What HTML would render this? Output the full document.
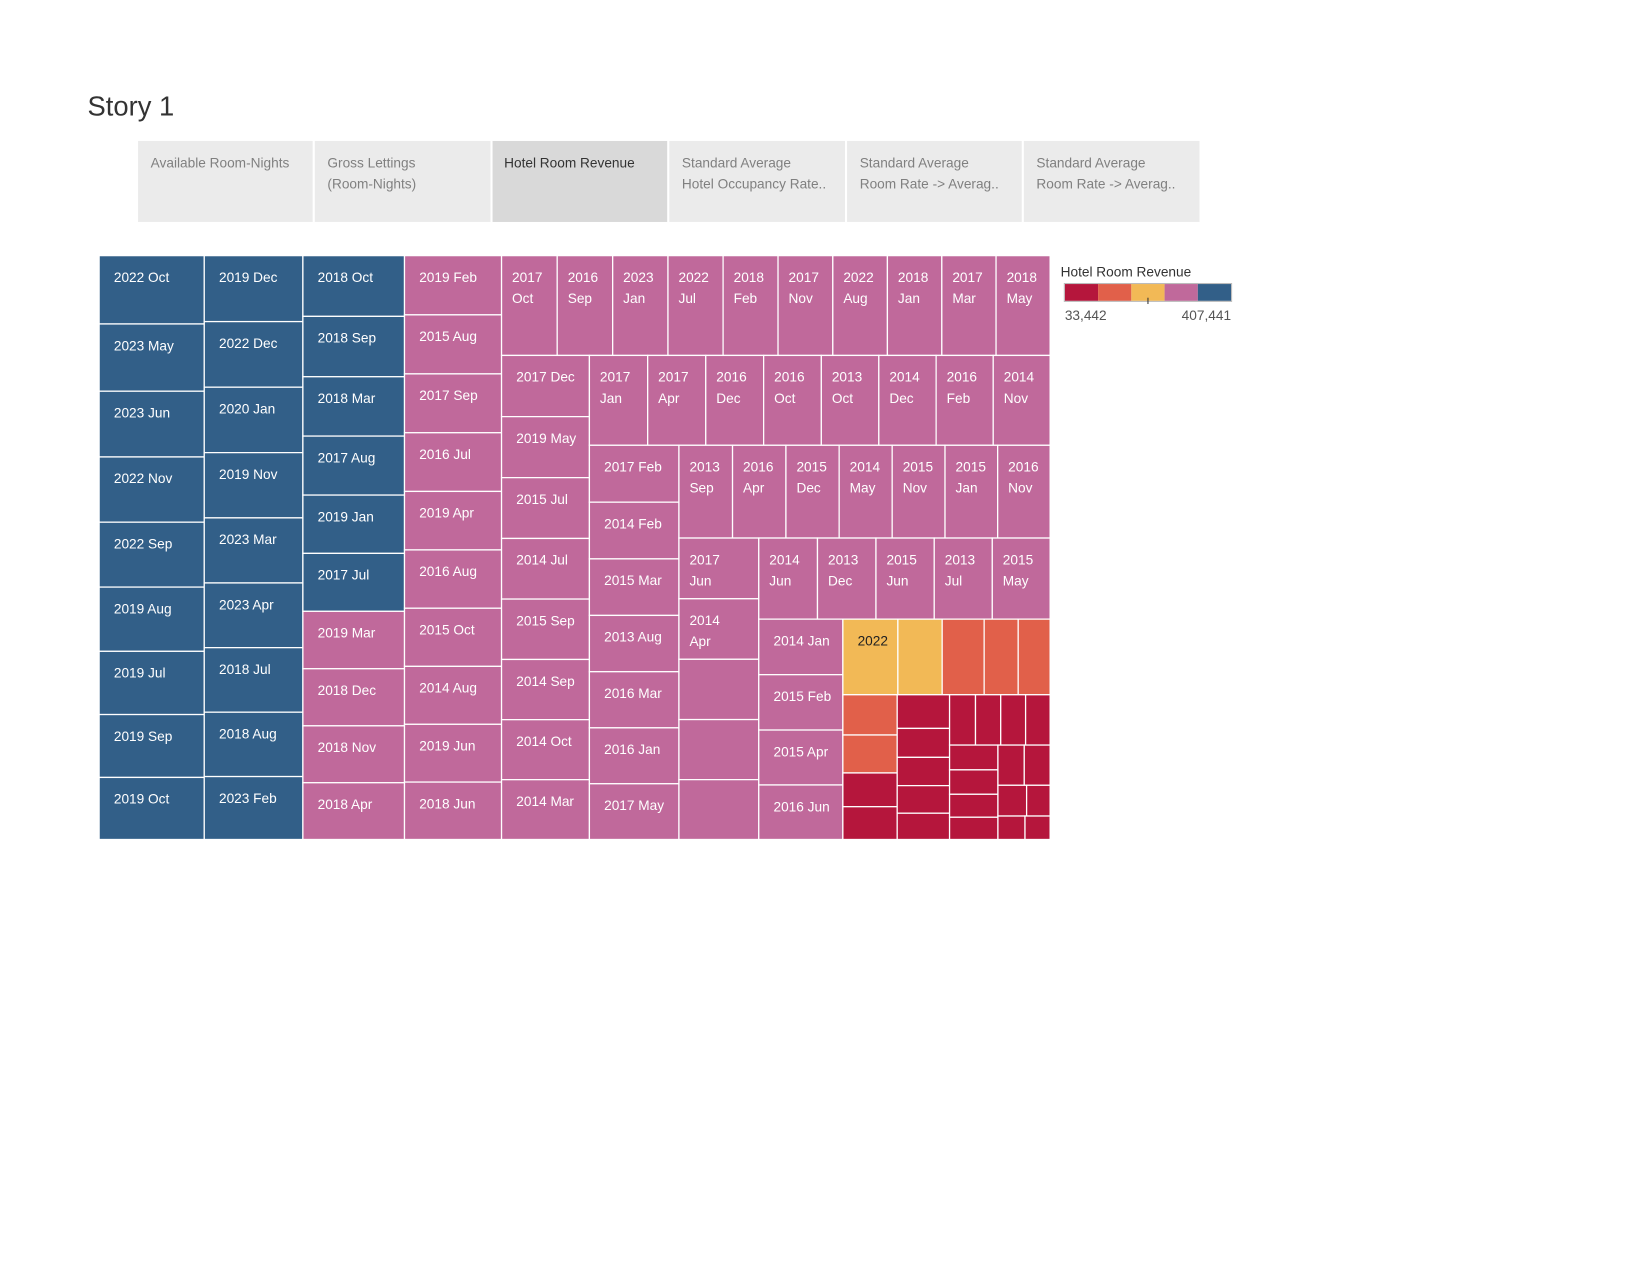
<!DOCTYPE html>
<html><head><meta charset="utf-8">
<style>
html,body{margin:0;padding:0;background:#fff;width:1650px;height:1275px;overflow:hidden;}
svg{display:block;font-family:"Liberation Sans",sans-serif;}
</style></head>
<body>
<svg id="root" width="1650" height="1275" viewBox="0 0 1568 1212" xmlns="http://www.w3.org/2000/svg">
  <text x="83" y="110" font-size="26" fill="#333">Story 1</text>
  <g>
    <g>
      <rect x="131" y="134" width="166" height="77" fill="#ebebeb"/>
      <text x="143" y="159" font-size="13" fill="#808080">Available Room-Nights</text>
    </g>
    <g>
      <rect x="299" y="134" width="167" height="77" fill="#ebebeb"/>
      <text x="311" y="159" font-size="13" fill="#808080">Gross Lettings</text>
      <text x="311" y="179" font-size="13" fill="#808080">(Room-Nights)</text>
    </g>
    <g>
      <rect x="468" y="134" width="166" height="77" fill="#d9d9d9"/>
      <text x="479" y="159" font-size="13" fill="#333">Hotel Room Revenue</text>
    </g>
    <g>
      <rect x="636" y="134" width="167" height="77" fill="#ebebeb"/>
      <text x="648" y="159" font-size="13" fill="#808080">Standard Average</text>
      <text x="648" y="179" font-size="13" fill="#808080">Hotel Occupancy Rate..</text>
    </g>
    <g>
      <rect x="805" y="134" width="166" height="77" fill="#ebebeb"/>
      <text x="817" y="159" font-size="13" fill="#808080">Standard Average</text>
      <text x="817" y="179" font-size="13" fill="#808080">Room Rate -&gt; Averag..</text>
    </g>
    <g>
      <rect x="973" y="134" width="167" height="77" fill="#ebebeb"/>
      <text x="985" y="159" font-size="13" fill="#808080">Standard Average</text>
      <text x="985" y="179" font-size="13" fill="#808080">Room Rate -&gt; Averag..</text>
    </g>
  </g>
  <g id="treemap"></g>
  <g>
    <text x="1008" y="263" font-size="13" fill="#333">Hotel Room Revenue</text>
    <g id="legendbar"></g>
    <text x="1012" y="304" font-size="13" fill="#555">33,442</text>
    <text x="1170" y="304" font-size="13" fill="#555" text-anchor="end">407,441</text>
  </g>
</svg>
<script>
const legendMin = 33442;
const legendMax = 407441;
const palette = ['#b5163c', '#e1604a', '#f2b956', '#c0699b', '#325f88'];
const labels = [
 '2022 Oct','2023 May','2023 Jun','2022 Nov','2022 Sep','2019 Aug','2019 Jul','2019 Sep','2019 Oct',
 '2019 Dec','2022 Dec','2020 Jan','2019 Nov','2023 Mar','2023 Apr','2018 Jul','2018 Aug','2023 Feb',
 '2018 Oct','2018 Sep','2018 Mar','2017 Aug','2019 Jan','2017 Jul','2019 Mar','2018 Dec','2018 Nov','2018 Apr',
 '2019 Feb','2015 Aug','2017 Sep','2016 Jul','2019 Apr','2016 Aug','2015 Oct','2014 Aug','2019 Jun','2018 Jun',
 '2017 Oct','2016 Sep','2023 Jan','2022 Jul','2018 Feb','2017 Nov','2022 Aug','2018 Jan','2017 Mar','2018 May',
 '2017 Dec','2019 May','2015 Jul','2014 Jul','2015 Sep','2014 Sep','2014 Oct','2014 Mar',
 '2017 Jan','2017 Apr','2016 Dec','2016 Oct','2013 Oct','2014 Dec','2016 Feb','2014 Nov',
 '2017 Feb','2014 Feb','2015 Mar','2013 Aug','2016 Mar','2016 Jan','2017 May',
 '2013 Sep','2016 Apr','2015 Dec','2014 May','2015 Nov','2015 Jan','2016 Nov',
 '2017 Jun','2014 Apr','','','',
 '2014 Jun','2013 Dec','2015 Jun','2013 Jul','2015 May',
 '2014 Jan','2015 Feb','2015 Apr','2016 Jun',
 '2022','','','','',
 '','','','',
 '','','','','',
 '','','','',
 '','','','',
 '','','','','',''
];
const values = [
 407441,401000,392000,389000,387000,383000,377000,375000,370000,
 369000,367000,366000,365000,364000,362000,361000,360000,352000,
 350000,348000,342000,340000,336000,334000,331000,329000,328000,327000,
 326000,325000,324000,323000,322000,321000,320000,319000,318000,316000,
 315000,314000,313000,312000,311000,310000,309000,308000,307000,306000,
 305000,304000,303000,302000,301000,300000,299000,298000,
 297000,296000,295000,294000,293000,292000,291000,290000,
 289000,288000,287000,286000,285000,284000,283000,
 282000,281000,280000,279000,278000,277000,276000,
 275000,274000,273000,272000,271000,
 270000,269000,268000,267000,266000,
 265000,264000,262000,260000,
 236000,190000,180000,146000,137000,
 124000,117000,104000,101000,
 100000,86000,84000,82000,78000,
 74000,72000,71000,70000,
 68000,67000,63000,61000,
 60000,59000,50000,41000,36000,33442
];
const H=(...c)=>['h',c];
const V=(...c)=>['v',c];
// nesting order of the squarified layout (cell counts, not positions)
const structure = H(['v',9],['v',9],['v',10],['v',10],
 V(['h',10], H(['v',8], V(['h',8], H(['v',7], V(['h',7], H(['v',5], V(['h',5], H(['v',4], V(['h',5], H(['v',4],['v',5], V(['h',4], H(['v',4], V(['h',2],['h',2],['h',2]))))))))))))));

const NS='http://www.w3.org/2000/svg';
const tm=document.getElementById('treemap');
const box={x:94,y:243,w:904,h:555};
let cursor=0;
function assign(n){
  n.start=cursor;
  if(typeof n[1]==='number'){cursor+=n[1];} else {n[1].forEach(assign);}
  n.end=cursor;
  n.sum=values.slice(n.start,n.end).reduce((a,b)=>a+b,0);
}
function colorFor(v){
  let b=Math.floor((v-legendMin)/(legendMax-legendMin)*5);
  b=Math.max(0,Math.min(4,b));
  return palette[b];
}
function drawCell(i,x,y,w,h){
  const g=document.createElementNS(NS,'g');
  
  
  const r=document.createElementNS(NS,'rect');
  r.setAttribute('x',x);r.setAttribute('y',y);r.setAttribute('width',w);r.setAttribute('height',h);
  r.setAttribute('fill',colorFor(values[i]));r.setAttribute('stroke','#fff');r.setAttribute('stroke-width','1.2');
  g.appendChild(r);
  const lab=labels[i];
  if(lab){
    const dark=colorFor(values[i])==='#f2b956';
    const t=document.createElementNS(NS,'text');
    t.setAttribute('font-size','13');
    t.setAttribute('fill',dark?'#222':'#fff');
    const parts=lab.split(' ');
    if(w<79 && parts.length>1){
      parts.forEach((p,k)=>{
        const s=document.createElementNS(NS,'tspan');
        s.setAttribute('x',x+10);s.setAttribute('y',y+25+k*20);s.textContent=p;t.appendChild(s);
      });
    } else {
      t.setAttribute('x',x+14);t.setAttribute('y',y+25);t.textContent=lab;
    }
    g.appendChild(t);
  }
  tm.appendChild(g);
}
function place(n,x,y,w,h){
  const horiz=n[0]==='h';
  let off=0;
  if(typeof n[1]==='number'){
    for(let i=n.start;i<n.end;i++){
      const f=values[i]/n.sum;
      if(horiz){drawCell(i,x+off,y,w*f,h);off+=w*f;}
      else{drawCell(i,x,y+off,w,h*f);off+=h*f;}
    }
  } else {
    n[1].forEach(c=>{
      const f=c.sum/n.sum;
      if(horiz){place(c,x+off,y,w*f,h);off+=w*f;}
      else{place(c,x,y+off,w,h*f);off+=h*f;}
    });
  }
}
assign(structure);
place(structure,box.x,box.y,box.w,box.h);

const lb=document.getElementById('legendbar');
palette.forEach((c,k)=>{
  const r=document.createElementNS(NS,'rect');
  
  
  r.setAttribute('x',1012+k*31.6);r.setAttribute('y',270);r.setAttribute('width',31.6);r.setAttribute('height',16);
  r.setAttribute('fill',c);
  lb.appendChild(r);
});
const fr=document.createElementNS(NS,'rect');


fr.setAttribute('x',1011.5);fr.setAttribute('y',269.5);fr.setAttribute('width',159);fr.setAttribute('height',17);
fr.setAttribute('fill','none');fr.setAttribute('stroke','#bbb');
lb.appendChild(fr);
const tk=document.createElementNS(NS,'line');


tk.setAttribute('x1',1091);tk.setAttribute('x2',1091);tk.setAttribute('y1',283);tk.setAttribute('y2',289);
tk.setAttribute('stroke','#333');
lb.appendChild(tk);
</script>
</body></html>
